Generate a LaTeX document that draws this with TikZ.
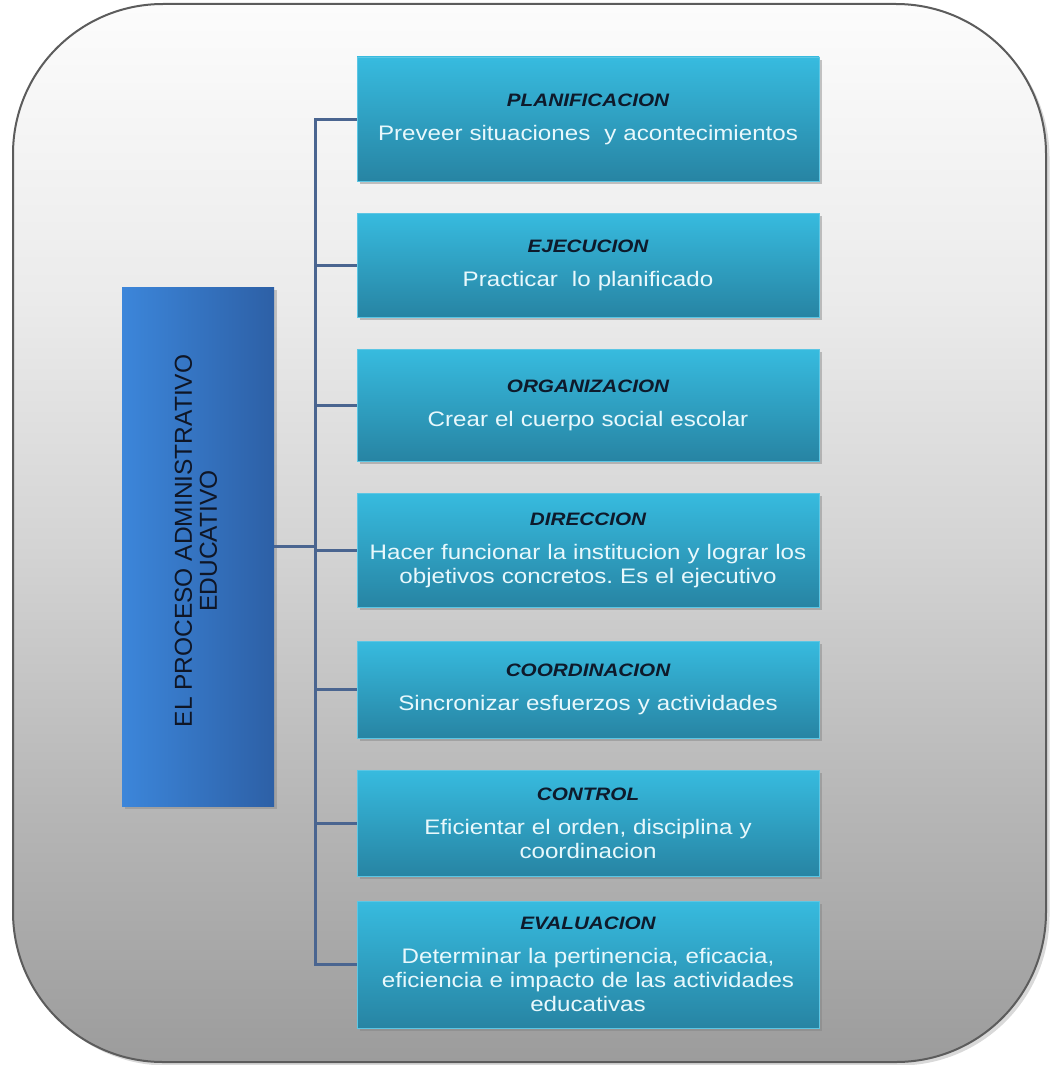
\documentclass[tikz,border=0pt]{standalone}
\usepackage{fontspec}
\setmainfont{Liberation Sans}
\newfontfamily\boxfont[FakeStretch=1.15]{Liberation Sans}
\usetikzlibrary{shadows}
\frenchspacing
\definecolor{boxtop}{HTML}{37BBDF}
\definecolor{boxbot}{HTML}{2784A3}
\definecolor{boxedge}{HTML}{5CC6E4}
\definecolor{mainl}{HTML}{3C86DA}
\definecolor{mainr}{HTML}{2D60A6}
\definecolor{linec}{HTML}{4A6590}
\definecolor{titlec}{HTML}{0E1A2B}
\definecolor{bodyc}{HTML}{E8F8FC}
\definecolor{framec}{HTML}{5C5C5C}
\definecolor{bgtop}{HTML}{FCFCFC}
\definecolor{bgm1}{HTML}{EBEBEB}
\definecolor{bgm2}{HTML}{D3D3D3}
\definecolor{bgm3}{HTML}{B6B6B6}
\definecolor{bgbot}{HTML}{9C9C9C}
\definecolor{maintxt}{HTML}{0F1626}
\pgfdeclareverticalshading{bgshade}{100bp}{color(0bp)=(bgbot); color(25bp)=(bgbot); color(37bp)=(bgm3); color(49bp)=(bgm2); color(61bp)=(bgm1); color(75bp)=(bgtop); color(100bp)=(bgtop)}
\newcommand\ttl[1]{{\bfseries\itshape\fontsize{18}{24}\selectfont\color{titlec}#1}}
\begin{document}
\begin{tikzpicture}[x=1pt,y=-1pt,
  stepbox/.style={rectangle, minimum width=462, text width=452, align=center,
    top color=boxtop, bottom color=boxbot, draw=boxedge, line width=0.6,
    drop shadow={shadow xshift=2.5pt, shadow yshift=-3pt, opacity=0.45},
    font=\boxfont\fontsize{21}{24}\selectfont, text=bodyc, inner sep=0pt},
  conn/.style={draw=linec, line width=3},
  framebox/.style={rectangle, draw=framec, line width=2, shading=bgshade,
    rounded corners=150, inner sep=0pt,
    drop shadow={shadow xshift=3.5pt, shadow yshift=-3.5pt, opacity=0.3}},
  mainbox/.style={rectangle, left color=mainl, right color=mainr, inner sep=0pt,
    drop shadow={shadow xshift=2.5pt, shadow yshift=-3pt, opacity=0.4}}]
\useasboundingbox (0,0) rectangle (1050,1065);
\node[framebox, minimum width=1033, minimum height=1058] (frame) at (529.5,533) {};
\node[mainbox, minimum width=152, minimum height=519] (main) at (198,546.5) {};
\node[rotate=90, font=\fontsize{24.5}{25}\selectfont, text=maintxt, align=center, inner sep=0pt] (maintext) at (196,541) {EL PROCESO ADMINISTRATIVO\\EDUCATIVO};
\node[stepbox, minimum height=124] (p1) at (588,119) {\ttl{PLANIFICACION}\\[10pt]Preveer situaciones\ \ y acontecimientos};
\node[stepbox, minimum height=104] (p2) at (588,265) {\ttl{EJECUCION}\\[10pt]Practicar\ \ lo planificado};
\node[stepbox, minimum height=112] (p3) at (588,405) {\ttl{ORGANIZACION}\\[10pt]Crear el cuerpo social escolar};
\node[stepbox, minimum height=114] (p4) at (588,550) {\ttl{DIRECCION}\\[10pt]Hacer funcionar la institucion y lograr los\\objetivos concretos. Es el ejecutivo};
\node[stepbox, minimum height=97] (p5) at (588,689.5) {\ttl{COORDINACION}\\[10pt]Sincronizar esfuerzos y actividades};
\node[stepbox, minimum height=106] (p6) at (588,823) {\ttl{CONTROL}\\[10pt]Eficientar el orden, disciplina y\\coordinacion};
\node[stepbox, minimum height=127] (p7) at (588,964.5) {\ttl{EVALUACION}\\[10pt]Determinar la pertinencia, eficacia,\\eficiencia e impacto de las actividades\\educativas};
\coordinate (trunk) at (315,0);
\draw[conn] (p1.west) -- (trunk |- p1.west) -- (trunk |- p7.west) -- (p7.west);
\foreach \i in {2,...,6} {\draw[conn] (trunk |- p\i.west) -- (p\i.west);}
\draw[conn] (main.east) -- (main.east -| trunk);
\end{tikzpicture}
\end{document}
